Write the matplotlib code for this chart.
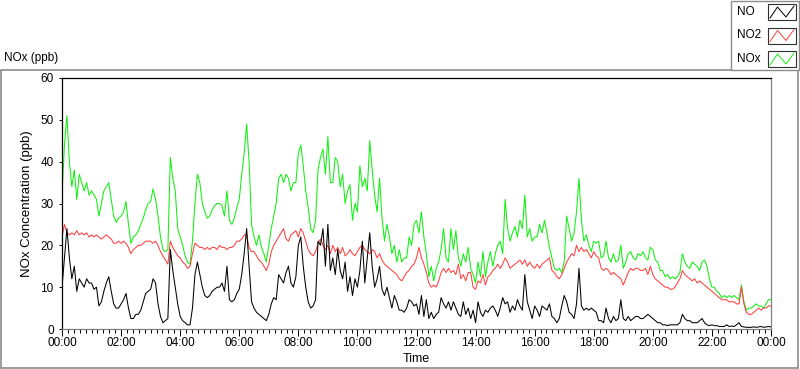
import numpy as np
import matplotlib
matplotlib.use("Agg")
import matplotlib.pyplot as plt
from matplotlib.patches import Rectangle
from matplotlib.ticker import MultipleLocator, FuncFormatter

plt.rcParams['font.family'] = ['Liberation Sans', 'DejaVu Sans']

# 5-minute readings from 00:00 to 24:00, one row per hour (ppb)
no = [
    10, 17, 24, 17, 12, 15, 9, 12, 11, 10, 12, 11,
    11, 9.5, 10, 5.5, 6.5, 9, 11, 12.5, 9, 6, 5, 5,
    6, 7, 8.5, 5, 2.5, 2.5, 3.5, 3.5, 4.5, 6.5, 8.5, 9,
    9.5, 12, 11, 6, 3, 1.5, 2, 2.5, 19, 14, 10, 6,
    3, 2, 1.5, 1, 1, 5, 13, 16, 13, 10, 8, 7.5,
    8, 9, 9.5, 10, 10, 11, 9, 15, 7, 6.5, 7, 8.5,
    9.5, 13, 18, 24, 15, 6.5, 5, 4, 3.5, 3, 2.5, 2,
    3.5, 6, 7.5, 7, 13, 12, 11, 13.5, 15, 11, 10, 12.5,
    20, 22, 15, 10, 6.5, 5, 5.5, 7, 21, 20, 24, 15,
    25, 14, 17, 13, 19, 14, 12, 16, 9, 12.5, 8, 12,
    10, 14, 21, 11, 17, 23, 15, 10, 12, 15, 9.5, 8,
    10, 7.5, 5, 8, 6.5, 4.5, 4.5, 4, 5, 7, 6.5, 5.5,
    6, 3.5, 8, 3, 7, 2.5, 4, 2.5, 3.5, 4, 7.5, 6,
    5, 6.5, 4.5, 6.5, 5, 3.5, 3, 6.5, 3.5, 5, 2.5, 4.5,
    1.5, 6.5, 4, 3, 4.5, 4, 5, 5.5, 4.5, 3, 5, 7.5,
    6, 6.5, 4, 5.5, 4.5, 7, 5.5, 4.5, 13, 6.5, 4.5, 2.5,
    5.5, 4.5, 3, 5.5, 5, 4.5, 6, 3, 2.5, 1.5, 2.5, 5.5,
    8, 6.5, 4, 3.5, 2.5, 6, 14.5, 5.5, 4.5, 5, 4.5, 5,
    4.5, 4, 2, 2, 1.5, 5, 2.5, 1.5, 3, 2, 2.5, 7,
    2.5, 2, 3, 2, 2.5, 3, 3, 2.5, 2.5, 3, 3.5, 3,
    2.5, 2, 1.5, 1.5, 1, 1, 0.8, 1, 1, 1, 1, 1.5,
    3.5, 2.5, 2, 2, 1.5, 1.5, 1.5, 2, 2.5, 1.5, 1, 0.8,
    1, 0.8, 0.8, 0.6, 0.6, 0.6, 1, 0.6, 0.7, 0.6, 1, 1.5,
    0.6, 0.5, 0.4, 0.4, 0.4, 0.5, 0.4, 0.5, 0.6, 0.4, 0.5, 0.6,
    0.5,
]

no2 = [
    22, 25, 23, 22.5, 23, 22.5, 23.5, 22.5, 23, 22.5, 23, 22,
    22.5, 22, 22.5, 22, 21.5, 22, 22.5, 22, 21.5, 20.5, 20.5, 21,
    20.5, 21, 20.5, 19.5, 18, 19, 19.5, 20, 20, 20.5, 21, 21,
    21, 20.5, 21, 20, 18.5, 17.5, 16.5, 15.5, 21, 19.5, 18.5, 17.5,
    17, 16, 15.5, 14.5, 15, 18, 20.5, 20, 19.5, 19.5, 19, 19.5,
    19, 19.5, 19.5, 19, 20, 19.5, 19.5, 19, 19.5, 19.5, 20, 21,
    21, 21.5, 22.5, 22.5, 19.5, 18.5, 18.5, 17.5, 16.5, 16, 15, 14,
    15.5, 18.5, 20, 21, 22, 23, 24, 21.5, 21, 22.5, 23, 23.5,
    22, 24, 23, 21, 19, 18, 17.5, 18.5, 20.5, 21.5, 20, 19,
    20, 18, 20, 18.5, 19.5, 18, 19.5, 17.5, 18, 19, 18, 17.5,
    18.5, 19.5, 20, 19, 18.5, 18, 19, 18.5, 17, 18, 16.5, 15.5,
    15, 14.5, 14, 13.5, 13, 12, 11.5, 12.5, 13.5, 14, 15, 15.5,
    17, 19.5, 17, 15.5, 13.5, 11, 10, 10.5, 10, 11.5, 13.5, 14.5,
    13.5, 14.5, 13.5, 14, 13, 15.5, 12, 13, 11.5, 13.5, 13.5, 10,
    9.5, 11.5, 11, 13, 10.5, 12.5, 13, 14, 14.5, 15.5, 14.5, 15.5,
    17, 16, 14.5, 15, 15.5, 16, 16.5, 15.5, 16.5, 15, 16, 15,
    14.5, 15.5, 14.5, 15.5, 16, 16.5, 17, 14, 13.5, 12.5, 12, 13,
    14.5, 16, 17, 18, 17.5, 20, 18.5, 19.5, 18.5, 19, 18, 17,
    18.5, 17.5, 17, 14.5, 14, 14.5, 14, 13, 13.5, 13, 12.5, 12,
    10.5, 12, 13.5, 14.5, 14, 14.5, 14.5, 14, 14, 14.5, 13, 15,
    13, 12, 11.5, 11, 10.5, 10, 10, 9.5, 9.5, 10, 11, 12,
    14, 13, 12.5, 12, 11.5, 12, 11, 11.5, 11, 10.5, 10, 9.5,
    9, 8.5, 8, 7.5, 7, 7, 7, 6.5, 6.5, 6.5, 6, 6,
    10, 6, 4, 3.5, 3.5, 4, 4.5, 5, 4.5, 5, 5, 5.5,
    5.5,
]

nox = [
    32, 44, 51, 40, 34, 38, 31, 37, 35, 33, 35, 32,
    33, 32, 31, 27, 30, 33, 34, 35, 31, 27, 25.5, 26.5,
    27, 28, 30.5, 25, 20.5, 22, 22.5, 23.5, 25, 26.5, 28.5, 30,
    30.5, 33.5, 31, 27, 22, 19, 18.5, 19, 41, 36, 33, 24,
    22, 20, 17.5, 16, 15.5, 21, 30, 37, 35, 30, 28, 26.5,
    27, 28.5, 29.5, 30, 30, 29.5, 27, 33, 26, 25, 26.5, 29,
    31, 37, 42, 49, 40, 25, 22, 20, 22.5, 19.5, 18, 16,
    20, 24, 27, 30, 36, 37, 35, 37, 36, 33, 35, 35,
    42, 44, 39, 33, 29, 24, 23, 26, 38, 41, 43, 37,
    46, 35, 35, 41, 40, 34, 37, 30, 33, 34.5, 26, 30,
    28, 39, 34, 36, 33, 45, 38, 32, 28, 36, 26.5, 21,
    25, 22, 18, 20, 16, 19, 16, 17, 17, 22, 20, 25,
    26, 23, 28, 22, 18, 12.5, 15, 11.5, 14.5, 16, 19, 24,
    17, 16, 24, 19, 23.5, 17, 15, 18, 16, 19.5, 14.5, 13,
    11, 16, 12.5, 18.5, 12.5, 16, 18.5, 15, 18, 20, 21, 18,
    31, 24, 21, 23, 24.5, 22, 26, 24, 32, 22, 24, 21,
    22, 22, 25, 23, 26, 23, 19.5, 17, 14.5, 14, 14.5, 13.5,
    16, 27, 24, 21, 23, 28, 36, 26, 21, 22.5, 20, 18.5,
    21, 20.5, 21, 17, 17.5, 21, 17, 16, 18, 16, 16.5, 20,
    14.5, 16, 18, 18.5, 17, 16.5, 18, 17.5, 18.5, 17, 16.5, 19.5,
    19, 16.5, 16, 14, 14, 12.5, 13, 12, 12.5, 12, 12.5, 13.5,
    18, 16, 15, 14.5, 16, 15.5, 15, 14, 16, 16.5, 15, 12,
    10, 10, 9, 8.5, 7.5, 8, 7.5, 8, 7.5, 8, 7.5, 7,
    10.5, 6.5, 4.5, 5, 5, 5.5, 6, 5.5, 5.5, 5, 6, 7,
    7,
]

names = ["NO", "NO2", "NOx"]
colors = ["black", "#ff4040", "#10f010"]

hours = np.arange(len(no)) * 5 / 60.0

fig = plt.figure(figsize=(8, 3.69), dpi=100)

# pixel-space layer for the panel frame, title and legend
deco = fig.add_axes([0, 0, 1, 1])
deco.set_xlim(0, 800)
deco.set_ylim(369, 0)
deco.axis('off')
deco.add_patch(Rectangle((0.5, 69.5), 797, 298.5, fill=False, ec="#8c8c8c", lw=1.2))
deco.text(4, 58, "NOx (ppb)", fontsize=8.5, va="center", ha="left")

deco.add_patch(Rectangle((730.5, 0.5), 68, 69, fc="white", ec="#8c8c8c", lw=1))
for k, (nm, col) in enumerate(zip(names, colors)):
    yc = 12 + k * 23.5
    deco.text(737, yc, nm, fontsize=8.5, va="center", ha="left")
    deco.add_patch(Rectangle((767.5, yc - 8), 28, 16, fc="white", ec="#303030", lw=0.8))
    deco.plot([770, 777.5, 786, 794], [yc + 6, yc - 5, yc + 5, yc - 6], color=col, lw=0.7)

ax = fig.add_axes([62 / 800, 40 / 369, 709 / 800, 251 / 369])
for vals, col in zip([nox, no2, no], colors[::-1]):
    ax.plot(hours, vals, color=col, lw=0.75)

ax.set_xlim(0, 24)
ax.set_ylim(0, 60)
ax.xaxis.set_major_locator(MultipleLocator(2))
ax.xaxis.set_minor_locator(MultipleLocator(0.2))
ax.xaxis.set_major_formatter(FuncFormatter(lambda v, p: "%02d:00" % (int(round(v)) % 24)))
ax.yaxis.set_major_locator(MultipleLocator(10))
ax.tick_params(axis="x", which="major", labelsize=8.5, length=5, width=0.7, pad=1)
ax.tick_params(axis="x", which="minor", length=2.8, width=0.7)
ax.tick_params(axis="y", which="major", labelsize=8.5, length=2.5, width=0.7, pad=3.5)

for side in ("top", "left"):
    ax.spines[side].set_color("black")
    ax.spines[side].set_linewidth(0.9)
for side in ("right", "bottom"):
    ax.spines[side].set_color("#808080")
    ax.spines[side].set_linewidth(0.9)

ax.set_xlabel("Time", fontsize=9, labelpad=3)
ax.set_ylabel("NOx Concentration (ppb)", fontsize=9.5, labelpad=5)

fig.savefig("out.png", dpi=100)
